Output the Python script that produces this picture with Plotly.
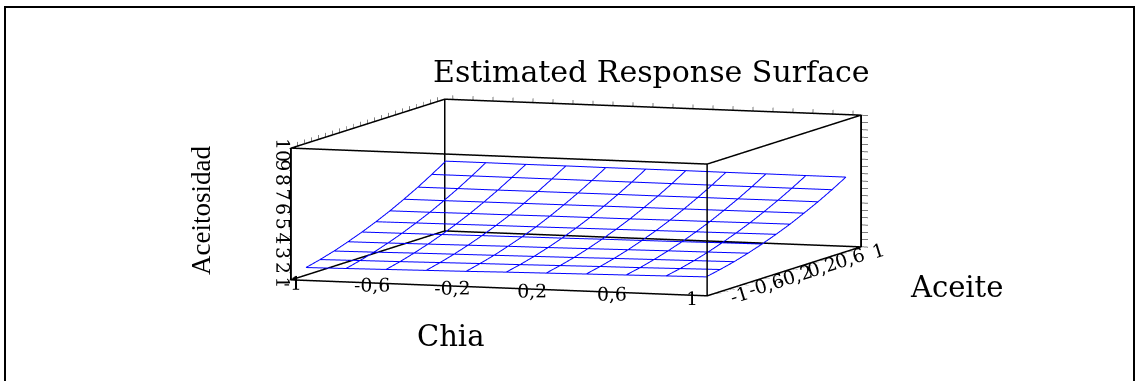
import plotly.graph_objects as go

# ---------------- data ----------------
chia = [-1.0, -0.8, -0.6, -0.4, -0.2, 0.0, 0.2, 0.4, 0.6, 0.8, 1.0]
aceite = [-1.0, -0.8, -0.6, -0.4, -0.2, 0.0, 0.2, 0.4, 0.6, 0.8, 1.0]
# rows: aceite (front -> back), columns: chia (left -> right)
aceitosidad = [
    [1.71, 1.75, 1.79, 1.83, 1.87, 1.92, 1.96, 2.00, 2.04, 2.08, 2.12],
    [1.95, 1.99, 2.02, 2.06, 2.10, 2.13, 2.17, 2.21, 2.24, 2.28, 2.32],
    [2.23, 2.26, 2.30, 2.33, 2.36, 2.39, 2.42, 2.46, 2.49, 2.52, 2.55],
    [2.56, 2.58, 2.61, 2.64, 2.67, 2.69, 2.72, 2.75, 2.78, 2.80, 2.83],
    [2.92, 2.94, 2.96, 2.99, 3.01, 3.03, 3.06, 3.08, 3.10, 3.13, 3.15],
    [3.32, 3.34, 3.36, 3.38, 3.39, 3.41, 3.43, 3.45, 3.47, 3.49, 3.51],
    [3.76, 3.77, 3.79, 3.80, 3.82, 3.83, 3.84, 3.86, 3.87, 3.89, 3.90],
    [4.25, 4.26, 4.27, 4.28, 4.29, 4.30, 4.31, 4.32, 4.33, 4.34, 4.35],
    [4.77, 4.78, 4.78, 4.79, 4.79, 4.80, 4.80, 4.81, 4.81, 4.82, 4.82],
    [5.34, 5.34, 5.34, 5.34, 5.34, 5.34, 5.34, 5.34, 5.34, 5.34, 5.34],
    [5.94, 5.94, 5.93, 5.93, 5.92, 5.92, 5.92, 5.91, 5.91, 5.90, 5.90],
]

chia_range = [-1.04, 1.04]
aceite_range = [-1.1, 1.1]
z_range = [1, 10]
# tiny padding so the frame drawn on the range limits is not clipped
chia_view = [-1.042, 1.042]
aceite_view = [-1.102, 1.102]
z_view = [0.99, 10.01]

chia_ticks = [-1.0, -0.9, -0.8, -0.7, -0.6, -0.5, -0.4, -0.3, -0.2, -0.1, 0.0,
              0.1, 0.2, 0.3, 0.4, 0.5, 0.6, 0.7, 0.8, 0.9, 1.0]
chia_labels = ["-1", "", "", "", "-0,6", "", "", "", "-0,2", "", "",
               "", "0,2", "", "", "", "0,6", "", "", "", "1"]
aceite_ticks = chia_ticks
aceite_labels = chia_labels
z_ticks = [1, 1.5, 2, 2.5, 3, 3.5, 4, 4.5, 5, 5.5, 6, 6.5, 7, 7.5, 8, 8.5, 9, 9.5, 10]
z_labels = ["1", "", "2", "", "3", "", "4", "", "5", "", "6", "", "7", "", "8", "", "9", "", "10"]

title_text = "Estimated Response Surface"
x_title = "Chia"
y_title = "Aceite"
z_title = "Aceitosidad"

# ---------------- wireframe ----------------
xs, ys, zs = [], [], []
for j, a in enumerate(aceite):
    for i, c in enumerate(chia):
        xs.append(c); ys.append(a); zs.append(aceitosidad[j][i])
    xs.append(None); ys.append(None); zs.append(None)
for i, c in enumerate(chia):
    for j, a in enumerate(aceite):
        xs.append(c); ys.append(a); zs.append(aceitosidad[j][i])
    xs.append(None); ys.append(None); zs.append(None)

# ---------------- box frame (12 edges from the axis ranges) ----------------
bx, by, bz = [], [], []
for yv in aceite_range:
    for zv in z_range:
        bx += [chia_range[0], chia_range[1], None]; by += [yv, yv, None]; bz += [zv, zv, None]
for xv in chia_range:
    for zv in z_range:
        bx += [xv, xv, None]; by += [aceite_range[0], aceite_range[1], None]; bz += [zv, zv, None]
for xv in chia_range:
    for yv in aceite_range:
        bx += [xv, xv, None]; by += [yv, yv, None]; bz += [z_range[0], z_range[1], None]

fig = go.Figure()
fig.add_trace(go.Scatter3d(
    x=bx, y=by, z=bz, mode="lines",
    line=dict(color="black", width=3),
    connectgaps=False, hoverinfo="skip", showlegend=False,
))
fig.add_trace(go.Scatter3d(
    x=xs, y=ys, z=zs, mode="lines",
    line=dict(color="#0000ff", width=2),
    connectgaps=False, hoverinfo="skip", showlegend=False,
))

tick_font = dict(family="DejaVu Serif", size=15, color="black")


def axis(rng, tv, tt, angle, tlen):
    return dict(
        range=rng, autorange=False,
        tickmode="array", tickvals=tv, ticktext=tt, tickangle=angle,
        showgrid=False, zeroline=False, showbackground=False,
        showline=True, linecolor="black", linewidth=2, mirror="allticks",
        ticks="outside", ticklen=tlen, tickwidth=1, tickcolor="black",
        showspikes=False, title=dict(text=""), tickfont=tick_font,
    )


s = 2.405
k = 4.0
fig.update_layout(
    width=1140, height=381,
    margin=dict(l=0, r=0, t=0, b=0),
    paper_bgcolor="white",
    showlegend=False,
    scene=dict(
        domain=dict(x=[0.0105, 1.0], y=[0.0, 0.963]),
        xaxis=axis(chia_view, chia_ticks, chia_labels, 0, 7),
        yaxis=axis(aceite_view, aceite_ticks, aceite_labels, -17, 4),
        zaxis=axis(z_view, z_ticks, z_labels, 90, 4),
        aspectmode="manual",
        aspectratio=dict(x=1.0 * s, y=1.064 * s, z=0.301 * s),
        camera=dict(
            eye=dict(x=0.326 * k, y=-0.939 * k, z=0.1105 * k),
            up=dict(x=0, y=0, z=1),
            center=dict(x=0, y=0, z=0),
            projection=dict(type="orthographic"),
        ),
        bgcolor="white",
    ),
    shapes=[dict(type="rect", xref="paper", yref="paper",
                 x0=5 / 1140, x1=1134 / 1140, y0=-0.1, y1=(381 - 7) / 381,
                 line=dict(color="black", width=2), fillcolor="rgba(0,0,0,0)")],
    annotations=[
        dict(text=title_text, x=651 / 1140, y=(381 - 71) / 381, xref="paper", yref="paper",
             showarrow=False, font=dict(family="DejaVu Serif", size=30, color="black"),
             xanchor="center", yanchor="middle"),
        dict(text=x_title, x=450 / 1140, y=(381 - 336) / 381, xref="paper", yref="paper",
             showarrow=False, font=dict(family="DejaVu Serif", size=29, color="black"),
             xanchor="center", yanchor="middle"),
        dict(text=y_title, x=957 / 1140, y=(381 - 287) / 381, xref="paper", yref="paper",
             showarrow=False, font=dict(family="DejaVu Serif", size=29, color="black"),
             xanchor="center", yanchor="middle"),
        dict(text=z_title, x=201 / 1140, y=(381 - 211) / 381, xref="paper", yref="paper",
             showarrow=False, textangle=-90,
             font=dict(family="Liberation Serif", size=27, color="black"),
             xanchor="center", yanchor="middle"),
    ],
)

fig.write_html("out.html")
